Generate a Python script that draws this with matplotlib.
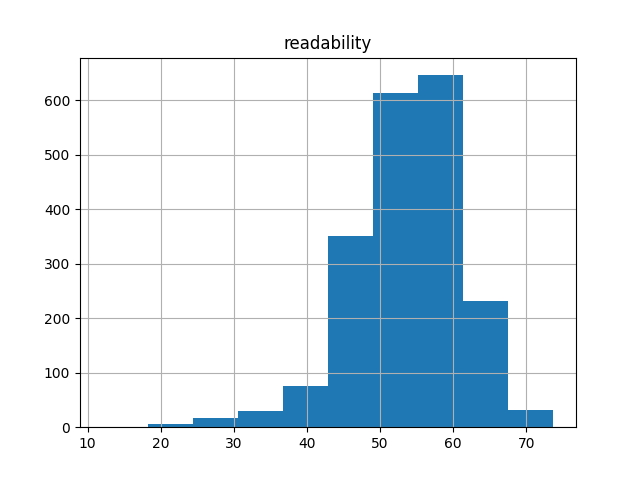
import matplotlib
matplotlib.use('Agg')
import matplotlib.pyplot as plt
import numpy as np

# histogram of readability (10 bins), counts
bin_min = 12.03
bin_width = 6.17
counts = [1, 5, 16, 29, 75, 351, 613, 646, 232, 31]

edges = bin_min + bin_width * np.arange(len(counts) + 1)

fig, ax = plt.subplots(figsize=(6.4, 4.8), dpi=100)
ax.hist(edges[:-1], bins=edges, weights=counts, color='#1f77b4')
ax.grid(True)
ax.set_title('readability')
fig.savefig('out.png')
